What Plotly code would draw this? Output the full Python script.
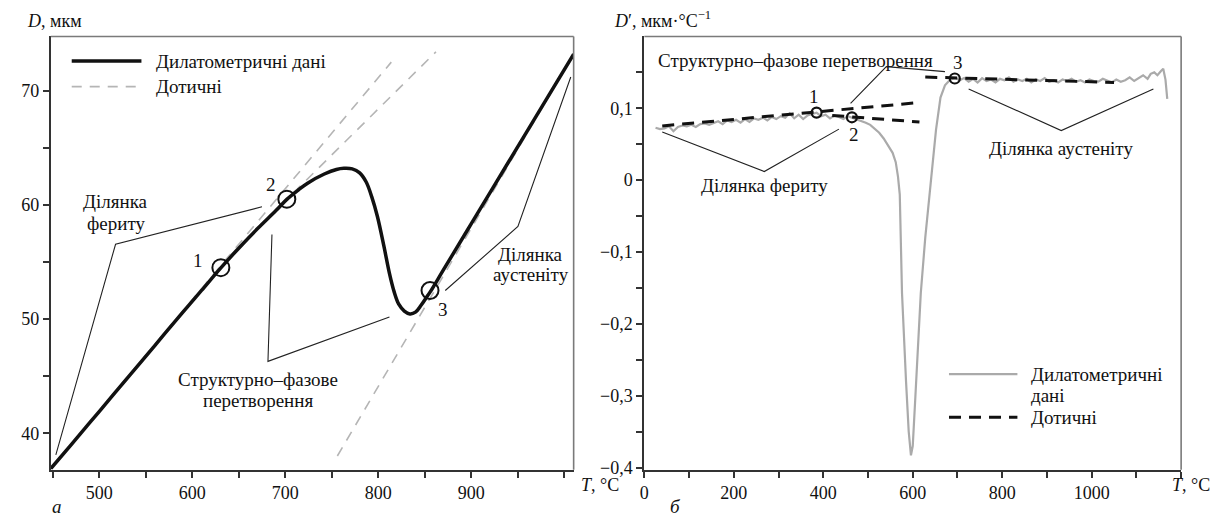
import plotly.graph_objects as go

# ---------------- Panel a: dilatometric curve ----------------
T_a = [448, 470, 500, 530, 560, 590, 610, 631, 650, 670, 690, 702, 714, 724, 742, 755, 763, 772,
       780, 787, 793, 799, 806, 812, 817, 822, 828, 834, 840, 846, 851, 856, 870, 900, 940, 980, 1010]
D_a = [36.9, 39.0, 41.9, 44.8, 47.7, 50.6, 52.5, 54.5, 56.2, 57.9, 59.5, 60.5, 61.3, 61.9, 62.7, 63.1, 63.2, 63.15,
       62.8, 62.0, 60.7, 59.0, 56.4, 54.0, 52.4, 51.3, 50.7, 50.45, 50.6, 51.2, 51.8, 52.4, 54.3, 58.35, 63.75, 69.15, 73.2]

tanA_T = [448, 814]
tanA_D = [36.9, 72.5]
tanB_T = [640, 862]
tanB_D = [55.5, 73.4]
tanC_T = [756, 1010]
tanC_D = [38.0, 73.2]

pts_a_T = [630.8, 701.7, 855.6]
pts_a_D = [54.5, 60.5, 52.5]
pts_a_lab = ["1", "2", "3"]
lab_a_T = [606.5, 684.6, 869.8]
lab_a_D = [55.1, 61.8, 50.8]

# leader lines panel a
fer_a_T = [453.4, 517.6, 675.0]
fer_a_D = [38.1, 56.55, 59.83]
str_a_T = [685.7, 681.4, 812.0]
str_a_D = [57.41, 46.29, 50.17]
aus_a_T = [872.0, 950.1, 1006.9]
aus_a_D = [52.5, 58.1, 71.2]

# ---------------- Panel b: derivative ----------------
T_b = [25, 35, 45, 55, 65, 75, 85, 95, 105, 115, 125, 135, 145, 155, 165, 175, 185, 195, 205, 215,
       225, 235, 245, 255, 265, 275, 285, 295, 305, 315, 325, 335, 345, 355, 365, 375, 385, 395, 405,
       415, 425, 435, 445, 455, 465, 475, 485, 495, 505, 515, 525, 535, 545, 555, 562, 567, 571, 576,
       585, 591, 596, 600, 606, 612, 618, 628, 640, 652, 662, 672, 684, 695, 705, 715, 725, 735, 745,
       755, 765, 775, 785, 795, 805, 815, 825, 835, 845, 855, 865, 875, 885, 895, 905, 915, 925, 935,
       945, 955, 965, 975, 985, 995, 1005, 1015, 1025, 1035, 1045, 1055, 1065, 1075, 1085, 1095, 1105,
       1115, 1125, 1132, 1140, 1147, 1155, 1160, 1165, 1169]
V_b = [0.073, 0.071, 0.072, 0.075, 0.068, 0.074, 0.076, 0.075, 0.077, 0.074, 0.078, 0.079, 0.077, 0.080,
       0.082, 0.078, 0.083, 0.081, 0.084, 0.080, 0.085, 0.081, 0.086, 0.084, 0.087, 0.083, 0.088, 0.085,
       0.089, 0.087, 0.093, 0.086, 0.091, 0.085, 0.090, 0.092, 0.094, 0.089, 0.091, 0.086, 0.090, 0.088,
       0.085, 0.089, 0.087, 0.084, 0.082, 0.080, 0.077, 0.072, 0.066, 0.058, 0.048, 0.038, 0.025, 0.005,
       -0.02, -0.157, -0.28, -0.35, -0.383, -0.37, -0.30, -0.22, -0.157, -0.08, 0.0, 0.07, 0.115, 0.132,
       0.14, 0.142, 0.139, 0.142, 0.137, 0.141, 0.136, 0.142, 0.138, 0.140, 0.136, 0.141, 0.139, 0.143,
       0.137, 0.140, 0.138, 0.141, 0.136, 0.140, 0.138, 0.142, 0.137, 0.139, 0.136, 0.140, 0.138, 0.141,
       0.137, 0.139, 0.136, 0.140, 0.138, 0.137, 0.141, 0.138, 0.136, 0.140, 0.137, 0.139, 0.143, 0.138,
       0.142, 0.146, 0.141, 0.148, 0.150, 0.146, 0.152, 0.155, 0.140, 0.113]

tb1_T = [40, 615]
tb1_V = [0.0755, 0.108]
tb2_T = [420, 615]
tb2_V = [0.0900, 0.081]
tb3_T = [628, 1050]
tb3_V = [0.1435, 0.136]

pts_b_T = [385, 464, 694]
pts_b_V = [0.094, 0.0875, 0.1415]
lab_b_T = [380, 468, 702]
lab_b_V = [0.116, 0.064, 0.164]

str_b_T = [461, 541, 672]
str_b_V = [0.107, 0.158, 0.151]
fer_b_T = [40, 268, 435]
fer_b_V = [0.067, 0.012, 0.071]
aus_b_T = [725, 932, 1138]
aus_b_V = [0.127, 0.069, 0.127]

FONT = "Liberation Serif, DejaVu Serif, Times New Roman, serif"
FS = 19
TFS = 18
W, H = 1213, 525

fig = go.Figure()

def line(x, y, xa, ya, color, width, dash=None, shape="linear"):
    fig.add_trace(go.Scatter(x=x, y=y, xaxis=xa, yaxis=ya, mode="lines", showlegend=False,
                             hoverinfo="skip",
                             line=dict(color=color, width=width, dash=dash, shape=shape)))

# panel a
line(tanA_T, tanA_D, "x", "y", "#b5b5b5", 1.6, "10px,8px")
line(tanB_T, tanB_D, "x", "y", "#b5b5b5", 1.6, "10px,8px")
line(tanC_T, tanC_D, "x", "y", "#b5b5b5", 1.6, "10px,8px")
line(T_a, D_a, "x", "y", "#111111", 3.5, None, "spline")
for xs, ys in [(fer_a_T, fer_a_D), (str_a_T, str_a_D), (aus_a_T, aus_a_D)]:
    line(xs, ys, "x", "y", "#222222", 1.1)
fig.add_trace(go.Scatter(x=pts_a_T, y=pts_a_D, xaxis="x", yaxis="y", mode="markers", showlegend=False,
                         marker=dict(symbol="circle-open", size=17, color="#111", line=dict(width=2))))

# panel b
line(T_b, V_b, "x2", "y2", "#aaaaaa", 2.2)
line(tb1_T, tb1_V, "x2", "y2", "#111111", 3, "12px,8px")
line(tb2_T, tb2_V, "x2", "y2", "#111111", 3, "12px,8px")
line(tb3_T, tb3_V, "x2", "y2", "#111111", 3, "12px,8px")
for xs, ys in [(str_b_T, str_b_V), (fer_b_T, fer_b_V), (aus_b_T, aus_b_V)]:
    line(xs, ys, "x2", "y2", "#222222", 1.1)
fig.add_trace(go.Scatter(x=pts_b_T, y=pts_b_V, xaxis="x2", yaxis="y2", mode="markers", showlegend=False,
                         marker=dict(symbol="circle-open", size=10, color="#111", line=dict(width=2.2))))

ann = []
def txt(x, y, s, xref, yref, xanchor="center", size=FS):
    ann.append(dict(x=x, y=y, xref=xref, yref=yref, text=s, showarrow=False, xanchor=xanchor,
                    yanchor="middle", font=dict(family=FONT, size=size, color="#111")))

for t, d, s in zip(lab_a_T, lab_a_D, pts_a_lab):
    txt(t, d, s, "x", "y")
for t, d, s in zip(lab_b_T, lab_b_V, pts_a_lab):
    txt(t, d, s, "x2", "y2")

txt(517.6, 60.26, "Ділянка", "x", "y")
txt(517.6, 58.36, "фериту", "x", "y")
txt(670.2, 44.74, "Структурно–фазове", "x", "y")
txt(670.2, 42.84, "перетворення", "x", "y")
txt(964, 55.69, "Ділянка", "x", "y")
txt(964, 53.88, "аустеніту", "x", "y")

txt(26, 0.166, "Структурно–фазове перетворення", "x2", "y2", "left")
txt(268, -0.008, "Ділянка фериту", "x2", "y2")
txt(932, 0.044, "Ділянка аустеніту", "x2", "y2")

# legends (text)
txt(150 / W, 1 - 62 / H, "Дилатометричні дані", "paper", "paper", "left")
txt(150 / W, 1 - 88 / H, "Дотичні", "paper", "paper", "left")
txt(859, -0.27, "Дилатометричні", "x2", "y2", "left")
txt(859, -0.30, "дані", "x2", "y2", "left")
txt(859, -0.33, "Дотичні", "x2", "y2", "left")

# axis titles
txt(20 / W, 1 - 21 / H, "<i>D</i>, мкм", "paper", "paper", "left", 18)
txt(610 / W, 1 - 20 / H, "<i>D</i>′, мкм·°C<sup>−1</sup>", "paper", "paper", "left", 18)
txt(576 / W, 1 - 493 / H, "<i>T</i>, °C", "paper", "paper", "left", TFS)
txt(1212 / W, 1 - 493 / H, "<i>T</i>, °C", "paper", "paper", "right", TFS)
txt(52 / W, 1 - 514 / H, "<i>а</i>", "paper", "paper")
txt(673 / W, 1 - 514 / H, "<i>б</i>", "paper", "paper")

# legend samples and grey top/right frame
shapes = [
    dict(type="line", xref="paper", yref="paper", x0=67 / W, x1=137 / W, y0=1 - 62 / H, y1=1 - 62 / H,
         line=dict(color="#111", width=3.5)),
    dict(type="line", xref="paper", yref="paper", x0=67 / W, x1=137 / W, y0=1 - 88 / H, y1=1 - 88 / H,
         line=dict(color="#b5b5b5", width=1.6, dash="10px,8px")),
    dict(type="line", xref="x2", yref="y2", x0=681, x1=834, y0=-0.27, y1=-0.27,
         line=dict(color="#aaaaaa", width=2.2)),
    dict(type="line", xref="x2", yref="y2", x0=681, x1=834, y0=-0.33, y1=-0.33,
         line=dict(color="#111", width=3, dash="12px,8px")),
]
for xr, yr in [("x domain", "y domain"), ("x2 domain", "y2 domain")]:
    shapes.append(dict(type="line", xref=xr, yref=yr, x0=0, x1=1, y0=1, y1=1,
                       line=dict(color="#7a7a7a", width=1.6)))
    shapes.append(dict(type="line", xref=xr, yref=yr, x0=1, x1=1, y0=0, y1=1,
                       line=dict(color="#7a7a7a", width=1.6)))

TL = 6
minor_common = dict(ticks="outside", ticklen=TL, tickwidth=2, tickcolor="#333")
axis_common = dict(showline=True, linecolor="#333", linewidth=2, mirror=False, ticks="outside",
                   ticklen=TL, tickwidth=2, tickcolor="#333", showgrid=False, zeroline=False,
                   tickfont=dict(family=FONT, size=TFS, color="#111"), tickmode="array")

ydom = [1 - 477 / H, 1 - 37 / H]
fig.update_layout(
    width=W, height=H, margin=dict(l=0, r=0, t=0, b=0),
    paper_bgcolor="white", plot_bgcolor="white", showlegend=False,
    font=dict(family=FONT, size=FS, color="#111"),
    xaxis=dict(axis_common, domain=[46 / W, 571 / W], range=[448, 1010],
               tickvals=[500, 600, 700, 800, 900], ticktext=["500", "600", "700", "800", "900"],
               minor=dict(minor_common, tickvals=[450, 550, 650, 750, 850, 950, 1000]),
               anchor="y"),
    yaxis=dict(axis_common, domain=ydom, range=[36.8, 74.75],
               tickvals=[40, 50, 60, 70], ticktext=["40", "50", "60", "70"],
               minor=dict(minor_common, tickvals=[45, 55, 65]),
               anchor="x"),
    xaxis2=dict(axis_common, domain=[642 / W, 1181 / W], range=[0, 1200],
                tickvals=[0, 200, 400, 600, 800, 1000],
                ticktext=["0", "200", "400", "600", "800", "1000"],
                minor=dict(minor_common, tickvals=[100, 300, 500, 700, 900, 1100, 1200]),
                anchor="y2"),
    yaxis2=dict(axis_common, domain=ydom, range=[-0.403, 0.2],
                tickvals=[-0.4, -0.3, -0.2, -0.1, 0, 0.1],
                ticktext=["−0,4", "−0,3", "−0,2", "−0,1", "0", "0,1"],
                minor=dict(minor_common, tickvals=[-0.35, -0.25, -0.15, -0.05, 0.05, 0.15]),
                anchor="x2"),
    annotations=ann, shapes=shapes,
)

fig.write_html("out.html")
